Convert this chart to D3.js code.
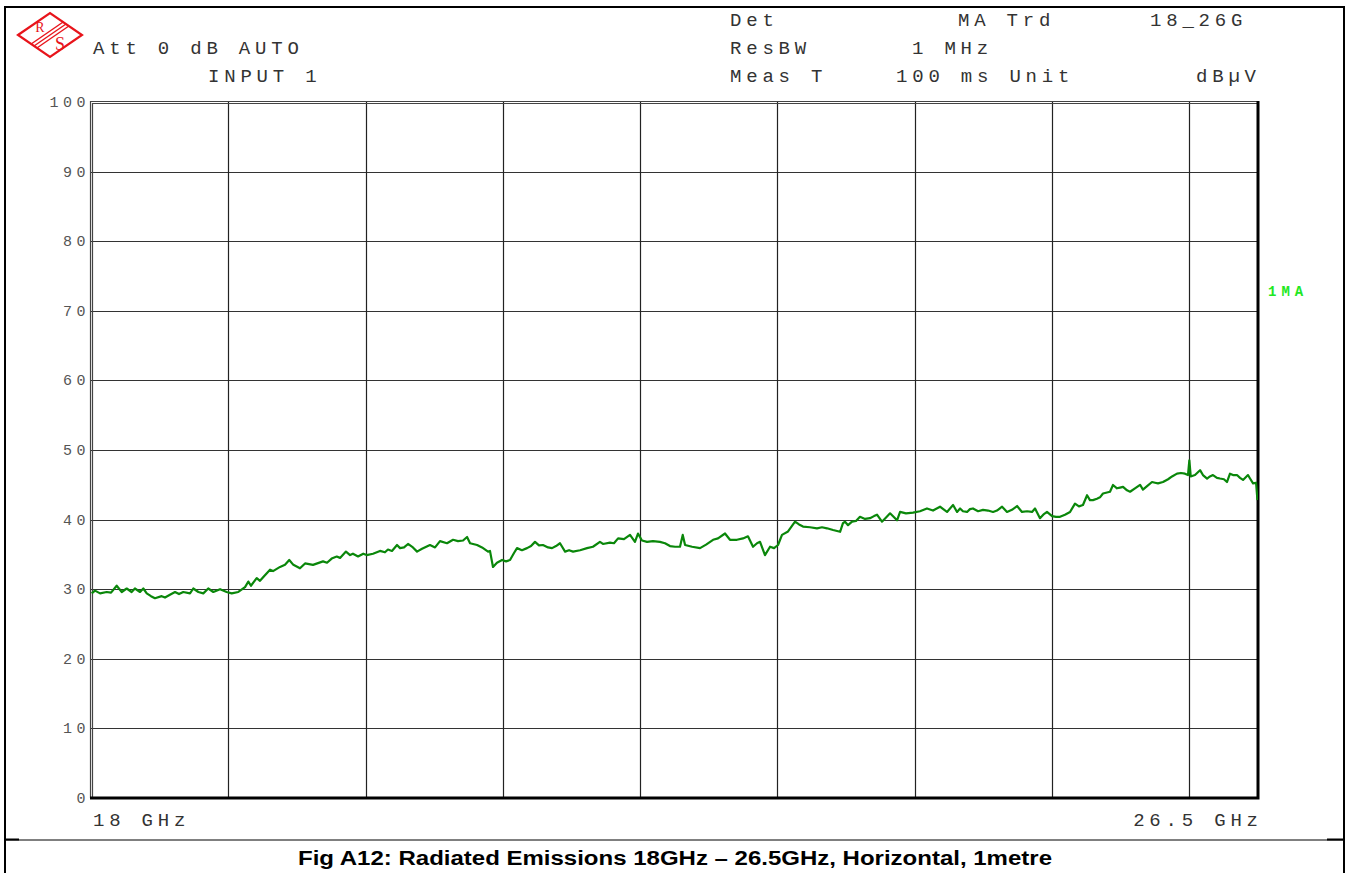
<!DOCTYPE html>
<html>
<head>
<meta charset="utf-8">
<script src="https://cdn.jsdelivr.net/npm/d3@7"></script>
<style>
  body { margin: 0; background: #fff; }
  svg { display: block; }
</style>
</head>
<body>
<div id="chart-area"></div>
<script>
// Spectrum analyser trace, 18 - 26.5 GHz (MA trace, dBuV)
var freqGHz = [18.005,18.029,18.066,18.114,18.146,18.187,18.224,18.260,18.296,18.320,
  18.357,18.381,18.406,18.437,18.466,18.515,18.539,18.575,18.612,18.641,
  18.672,18.721,18.745,18.782,18.818,18.854,18.891,18.940,18.988,19.025,
  19.073,19.122,19.146,19.165,19.207,19.231,19.267,19.304,19.326,19.377,
  19.413,19.444,19.474,19.522,19.559,19.617,19.690,19.719,19.753,19.790,
  19.814,19.857,19.887,19.908,19.945,19.983,20.008,20.054,20.105,20.141,
  20.163,20.192,20.229,20.251,20.280,20.309,20.345,20.375,20.411,20.469,
  20.506,20.542,20.593,20.637,20.673,20.710,20.739,20.761,20.812,20.848,
  20.892,20.906,20.928,20.957,20.994,21.023,21.052,21.081,21.103,21.139,
  21.176,21.205,21.234,21.263,21.292,21.329,21.358,21.387,21.416,21.453,
  21.482,21.511,21.562,21.613,21.656,21.707,21.729,21.780,21.809,21.839,
  21.882,21.926,21.962,21.984,22.013,22.050,22.093,22.144,22.181,22.217,
  22.254,22.290,22.310,22.327,22.378,22.436,22.480,22.531,22.567,22.618,
  22.654,22.705,22.749,22.785,22.822,22.851,22.873,22.909,22.946,22.975,
  23.004,23.033,23.077,23.128,23.157,23.186,23.237,23.288,23.324,23.361,
  23.405,23.456,23.477,23.492,23.514,23.543,23.572,23.601,23.638,23.674,
  23.703,23.725,23.761,23.791,23.820,23.871,23.893,23.936,23.987,24.038,
  24.089,24.133,24.184,24.235,24.279,24.308,24.330,24.351,24.381,24.402,
  24.424,24.461,24.497,24.534,24.570,24.599,24.636,24.672,24.708,24.745,
  24.781,24.818,24.854,24.876,24.912,24.941,24.963,25.000,25.029,25.058,
  25.094,25.131,25.167,25.196,25.225,25.255,25.276,25.298,25.327,25.349,
  25.371,25.400,25.422,25.444,25.473,25.495,25.517,25.546,25.568,25.604,
  25.641,25.662,25.692,25.728,25.750,25.772,25.808,25.845,25.874,25.910,
  25.939,25.968,25.990,26.000,26.010,26.041,26.078,26.099,26.129,26.150,
  26.172,26.201,26.223,26.252,26.274,26.296,26.318,26.347,26.369,26.391,
  26.427,26.442,26.464,26.486,26.496];
var levelDbuV = [29.4,29.8,29.4,29.6,29.5,30.5,29.6,30.1,29.6,30.1,
  29.6,30.1,29.4,29.0,28.7,29.0,28.8,29.2,29.6,29.3,
  29.6,29.4,30.1,29.6,29.4,30.1,29.6,30.0,29.6,29.4,
  29.6,30.3,31.1,30.5,31.6,31.2,32.0,32.8,32.6,33.2,
  33.5,34.2,33.5,33.0,33.7,33.5,34.0,33.8,34.4,34.7,
  34.5,35.4,34.9,35.1,34.7,35.1,34.9,35.1,35.5,35.3,
  35.7,35.5,36.35,35.9,36.0,36.5,36.0,35.4,35.8,36.35,
  36.0,36.9,36.6,37.1,36.9,37.0,37.5,36.6,36.35,36.0,
  35.4,35.5,33.2,33.8,34.2,34.0,34.2,35.2,35.9,35.6,
  35.9,36.2,36.8,36.3,36.35,36.0,35.9,36.2,36.6,35.4,
  35.6,35.4,35.6,35.9,36.1,36.8,36.5,36.7,36.6,37.3,
  37.2,37.8,36.8,38.0,37.0,36.8,36.9,36.8,36.6,36.2,
  36.1,36.1,37.8,36.35,36.1,35.9,36.4,37.1,37.3,38.0,
  37.1,37.1,37.3,37.6,36.1,36.6,36.8,34.9,36.1,35.9,
  36.35,37.8,38.3,39.7,39.3,39.0,38.9,38.75,38.9,38.75,
  38.5,38.25,39.5,39.7,39.2,39.7,39.8,40.4,40.1,40.2,
  40.5,40.7,39.7,40.3,40.9,39.9,41.1,40.9,41.0,41.2,
  41.6,41.3,41.85,41.1,42.1,41.1,41.6,41.2,41.1,41.5,
  41.6,41.2,41.4,41.3,41.1,41.3,41.85,41.1,41.4,41.95,
  41.1,41.2,41.1,41.6,40.2,40.8,41.1,40.5,40.4,40.4,
  40.7,41.1,42.3,41.9,42.1,43.5,42.8,42.8,43.0,43.2,
  43.75,43.9,44.0,44.97,44.5,44.6,44.7,44.2,44.0,44.5,
  45.0,44.3,44.8,45.4,45.3,45.2,45.4,45.8,46.2,46.6,
  46.7,46.6,46.4,48.5,46.2,46.4,47.1,46.4,45.9,46.2,
  46.4,46.0,45.9,45.8,45.4,46.6,46.4,46.4,46.0,45.7,
  46.4,45.9,45.2,45.3,42.8];

var yTicks = [0, 10, 20, 30, 40, 50, 60, 70, 80, 90, 100];
var xGrid = [19, 20, 21, 22, 23, 24, 25, 26];
var xStartLabel = "18 GHz", xStopLabel = "26.5 GHz";
var headerLeft = [["Att 0 dB AUTO", 93, 54], ["INPUT 1", 208, 82]];
var headerRight = [["Det", 730, 26], ["MA Trd", 958, 26], ["18_26G", 1150, 26],
                   ["ResBW", 730, 54], ["1 MHz", 912, 54],
                   ["Meas T", 730, 82], ["100 ms Unit", 896, 82], ["dB\u00b5V", 1196, 82]];
var traceLabel = "1MA";
var caption = "Fig A12: Radiated Emissions 18GHz \u2013 26.5GHz, Horizontal, 1metre";

var W = 1351, H = 873;
var plot = { left: 91, right: 1258, top: 102, bottom: 798 };
var mono = "'Liberation Mono', 'DejaVu Sans Mono', monospace";

var svg = d3.select("#chart-area").append("svg")
    .attr("width", W).attr("height", H);

// scales
var x = d3.scaleLinear().domain([18, 26.5]).range([plot.left, plot.right]);
var y = d3.scaleLinear().domain([0, 100]).range([plot.bottom, plot.top]);

// outer frame + caption cell
var frame = svg.append("g").attr("stroke", "#000").attr("fill", "none");
frame.append("line").attr("x1", 4).attr("x2", 1345).attr("y1", 7).attr("y2", 7).attr("stroke-width", 2);
frame.append("line").attr("x1", 5).attr("x2", 5).attr("y1", 6).attr("y2", H).attr("stroke-width", 2);
frame.append("line").attr("x1", 1344).attr("x2", 1344).attr("y1", 6).attr("y2", H).attr("stroke-width", 2);
frame.append("line").attr("x1", 5).attr("x2", 1344).attr("y1", 840).attr("y2", 840).attr("stroke-width", 1);
frame.append("line").attr("x1", 5).attr("x2", 19).attr("y1", 839.5).attr("y2", 839.5).attr("stroke-width", 2);
frame.append("line").attr("x1", 1327).attr("x2", 1344).attr("y1", 839.5).attr("y2", 839.5).attr("stroke-width", 2);

// R&S logo
var logo = svg.append("g").attr("class", "logo");
var red = "#e8141b";
logo.append("polygon")
    .attr("points", "18,35 50,13 82,35 50,57")
    .attr("fill", "none").attr("stroke", red).attr("stroke-width", 2.2);
[0.41, 0.5, 0.59].forEach(function(t) {
  logo.append("line")
      .attr("x1", 18 + 32 * t).attr("y1", 35 + 22 * t)
      .attr("x2", 50 + 32 * t).attr("y2", 13 + 22 * t)
      .attr("stroke", red).attr("stroke-width", 1.4);
});
logo.append("text").attr("x", 40).attr("y", 32).attr("text-anchor", "middle")
    .attr("font-family", "'Liberation Serif', serif").attr("font-size", 14)
    .attr("fill", red).text("R");
logo.append("text").attr("x", 60).attr("y", 50).attr("text-anchor", "middle")
    .attr("font-family", "'Liberation Serif', serif").attr("font-size", 18)
    .attr("fill", red).text("S");

// header texts
svg.selectAll(".hdr")
    .data(headerLeft.concat(headerRight))
  .enter().append("text")
    .attr("class", "hdr")
    .attr("x", d => d[1])
    .attr("y", d => d[2])
    .attr("font-family", mono).attr("font-size", 19)
    .attr("letter-spacing", "4.8px")
    .attr("fill", "#333")
    .text(d => d[0]);

// grid
var grid = svg.append("g").attr("class", "grid");
grid.selectAll(".hgrid")
    .data(yTicks.filter(d => d > 0 && d < 100))
  .enter().append("line")
    .attr("x1", plot.left).attr("x2", plot.right)
    .attr("y1", d => Math.round(y(d)) + 0.5).attr("y2", d => Math.round(y(d)) + 0.5)
    .attr("stroke", "#333").attr("stroke-width", 1.2);
grid.selectAll(".vgrid")
    .data(xGrid)
  .enter().append("line")
    .attr("y1", plot.top).attr("y2", plot.bottom)
    .attr("x1", d => Math.round(x(d)) + 0.5).attr("x2", d => Math.round(x(d)) + 0.5)
    .attr("stroke", "#222").attr("stroke-width", 1.2);

// plot border: double line left/top, heavy right/bottom
var border = svg.append("g").attr("fill", "none");
border.append("path")
    .attr("d", "M" + (plot.left - 0.5) + "," + plot.bottom + "V" + (plot.top - 0.5) + "H" + plot.right)
    .attr("stroke", "#444").attr("stroke-width", 1.2);
border.append("path")
    .attr("d", "M" + (plot.left + 1.5) + "," + plot.bottom + "V" + (plot.top + 1.5) + "H" + plot.right)
    .attr("stroke", "#444").attr("stroke-width", 1.2);
border.append("path")
    .attr("d", "M" + (plot.left - 1) + "," + plot.bottom + "H" + plot.right + "V" + (plot.top - 1))
    .attr("stroke", "#000").attr("stroke-width", 3);

// y labels
svg.selectAll(".ylab")
    .data(yTicks)
  .enter().append("text")
    .attr("class", "ylab")
    .attr("x", 90)
    .attr("y", d => y(d) + 5)
    .attr("text-anchor", "end")
    .attr("font-family", mono).attr("font-size", 15)
    .attr("letter-spacing", "4.5px")
    .attr("fill", "#555")
    .text(d => d);

// x start/stop labels
svg.append("text")
    .attr("x", plot.left + 2).attr("y", 826)
    .attr("font-family", mono).attr("font-size", 19).attr("letter-spacing", "4.8px")
    .attr("fill", "#333").text(xStartLabel);
svg.append("text")
    .attr("x", plot.right + 4.8).attr("y", 826).attr("text-anchor", "end")
    .attr("font-family", mono).attr("font-size", 19).attr("letter-spacing", "4.8px")
    .attr("fill", "#333").text(xStopLabel);

// trace
var trace = freqGHz.map((f, i) => ({ f: f, v: levelDbuV[i] }));
svg.append("clipPath").attr("id", "clip")
  .append("rect").attr("x", plot.left).attr("y", plot.top)
    .attr("width", plot.right - plot.left).attr("height", plot.bottom - plot.top);
var line = d3.line()
    .x(d => x(d.f))
    .y(d => y(d.v));
svg.append("path")
    .attr("class", "line")
    .attr("clip-path", "url(#clip)")
    .attr("fill", "none")
    .attr("stroke", "#0a870a")
    .attr("stroke-width", 2.2)
    .attr("stroke-linejoin", "round")
    .attr("d", line(trace));

// trace label
svg.append("text")
    .attr("x", 1268).attr("y", 296)
    .attr("font-family", mono).attr("font-size", 14).attr("font-weight", "bold")
    .attr("letter-spacing", "5px")
    .attr("fill", "#22e822").text(traceLabel);

// caption (stretched to the width it has in the report)
svg.append("text")
    .attr("x", 675).attr("y", 865).attr("text-anchor", "middle")
    .attr("font-family", "'Liberation Sans', Arial, sans-serif")
    .attr("font-size", 20).attr("font-weight", "bold")
    .attr("textLength", 754).attr("lengthAdjust", "spacingAndGlyphs")
    .attr("fill", "#000").text(caption);
</script>
</body>
</html>
